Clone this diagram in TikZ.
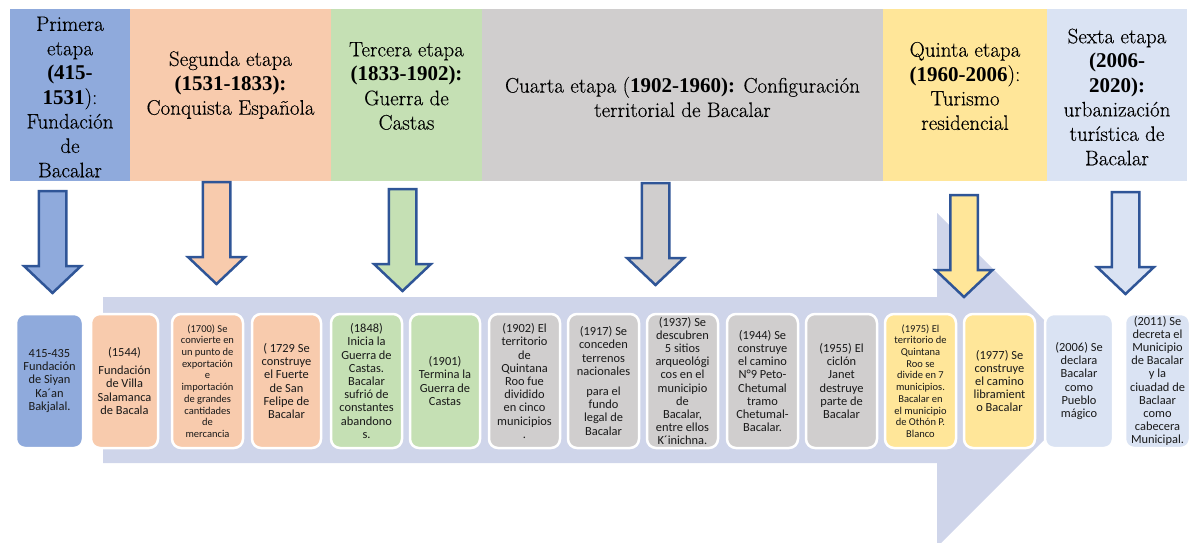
\documentclass[tikz,border=0pt]{standalone}
\usepackage{fontspec}
\setmainfont{Latin Modern Roman}
\newfontfamily\hdrreg{Latin Modern Roman}[FakeBold=0.3]
\newfontfamily\hdrboldfam{Liberation Serif}
\newcommand{\HdrB}[1]{{\hdrboldfam\bfseries #1}}
\newfontfamily\boxfont{Carlito}
\definecolor{cBlue}{HTML}{8FAADC}
\definecolor{cPeach}{HTML}{F8CBAD}
\definecolor{cGreen}{HTML}{C5E0B4}
\definecolor{cGray}{HTML}{D0CECE}
\definecolor{cYellow}{HTML}{FFE699}
\definecolor{cLight}{HTML}{DAE3F3}
\definecolor{cBand}{HTML}{CFD5EA}
\definecolor{cEdge}{HTML}{2F5597}
\tikzset{
  hdrbox/.style={draw=none, inner sep=0pt, outer sep=0pt, minimum height=172pt},
  hdrtext/.style={font=\hdrreg\fontsize{21}{24.4}\selectfont, align=center, inner sep=0pt, text=black},
  evt/.style={rounded corners=9pt, draw=white, line width=2.5pt, minimum height=134pt,
    align=center, font=\boxfont\fontsize{12.4}{13.2}\selectfont, inner sep=1pt, text=black!90},
  evtsmall/.style={font=\boxfont\fontsize{10.5}{11.7}\selectfont},
  pics/blockdown/.style={code={
    \draw[cEdge, line width=2.5pt, line join=miter, fill=#1]
      (-13.75,0) -- (13.75,0) -- (13.75,75) -- (28.5,75) -- (0,102)
      -- (-28.5,75) -- (-13.75,75) -- cycle;}}
}
\begin{document}
\begin{tikzpicture}[x=1pt, y=-1pt]
\useasboundingbox (0,0) rectangle (1189,543);

% big background arrow
\fill[cBand] (103,297) -- (937,297) -- (937,213) -- (1104,380) -- (941,543)
  -- (937,543) -- (937,463) -- (103,463) -- cycle;

% header bands
\node[hdrbox, fill=cBlue,   minimum width=120pt] (h1) at (70,95) {};
\node[hdrbox, fill=cPeach,  minimum width=201pt] (h2) at (230.5,95) {};
\node[hdrbox, fill=cGreen,  minimum width=151pt] (h3) at (406.5,95) {};
\node[hdrbox, fill=cGray,   minimum width=401pt] (h4) at (682.5,95) {};
\node[hdrbox, fill=cYellow, minimum width=164pt] (h5) at (965,95) {};
\node[hdrbox, fill=cLight,  minimum width=140pt] (h6) at (1117,95) {};

\node[hdrtext] (t1) at (70,97) {Primera\\etapa\\\HdrB{(415-}\\\HdrB{1531}):\\Fundación\\de\\Bacalar};
\node[hdrtext] (t2) at (230.5,85) {Segunda etapa\\\HdrB{(1531-1833):}\\Conquista Española};
\node[hdrtext] (t3) at (406.5,86) {Tercera etapa\\\HdrB{(1833-1902):}\\Guerra de\\Castas};
\node[hdrtext] (t4) at (682.5,97) {Cuarta etapa (\HdrB{1902-1960):} Configuración\\territorial de Bacalar};
\node[hdrtext] (t5) at (965,86) {Quinta etapa\\\HdrB{(1960-2006}):\\Turismo\\residencial};
\node[hdrtext] (t6) at (1117,97) {Sexta etapa\\\HdrB{(2006-}\\\HdrB{2020):}\\urbanización\\turística de\\Bacalar};

% down arrows
\pic (a1) at (52.5,191) {blockdown=cBlue};
\pic (a2) at (216.5,182) {blockdown=cPeach};
\pic (a3) at (402.5,189) {blockdown=cGreen};
\pic (a4) at (655.5,183) {blockdown=cGray};
\pic (a5) at (964,195) {blockdown=cYellow};
\pic (a6) at (1125.5,192) {blockdown=cLight};

% event boxes
\node[evt, fill=cBlue, minimum width=67pt] (b1) at (49.5,381) {415-435\\Fundación\\de Siyan\\Ka´an\\Bakjalal.};
\node[evt, fill=cPeach, minimum width=67pt] (b2) at (124.5,381) {(1544)\\[5pt]Fundación\\de Villa\\Salamanca\\de Bacala};
\node[evt, evtsmall, fill=cPeach, minimum width=71pt] (b3) at (207.5,381) {(1700) Se\\convierte en\\un punto de\\exportación\\e\\importación\\de grandes\\cantidades\\de\\mercancia};
\node[evt, fill=cPeach, minimum width=69pt] (b4) at (286.5,381) {( 1729 Se\\construye\\el Fuerte\\de San\\Felipe de\\Bacalar};
\node[evt, fill=cGreen, minimum width=71pt] (b5) at (366.5,381) {(1848)\\Inicia la\\Guerra de\\Castas.\\Bacalar\\sufrió de\\constantes\\abandono\\s.};
\node[evt, fill=cGreen, minimum width=70pt] (b6) at (445,381) {(1901)\\Termina la\\Guerra de\\Castas};
\node[evt, fill=cGray, minimum width=71pt] (b7) at (524.5,381) {(1902) El\\territorio\\de\\Quintana\\Roo fue\\dividido\\en cinco\\municipios\\.};
\node[evt, fill=cGray, minimum width=71pt] (b8) at (603.5,381) {(1917) Se\\conceden\\terrenos\\nacionales\\[7pt]para el\\fundo\\legal de\\Bacalar};
\node[evt, fill=cGray, minimum width=71pt] (b9) at (682.5,381) {(1937) Se\\descubren\\5 sitios\\arqueológi\\cos en el\\municipio\\de\\Bacalar,\\entre ellos\\K´inichna.};
\node[evt, fill=cGray, minimum width=71pt] (b10) at (762.5,381) {(1944) Se\\construye\\el camino\\N°9 Peto-\\Chetumal\\tramo\\Chetumal-\\Bacalar.};
\node[evt, fill=cGray, minimum width=71pt] (b11) at (841.5,381) {(1955) El\\ciclón\\Janet\\destruye\\parte de\\Bacalar};
\node[evt, evtsmall, fill=cYellow, minimum width=71pt] (b12) at (920.5,381) {(1975) El\\territorio de\\Quintana\\Roo se\\divide en 7\\municipios.\\Bacalar en\\el municipio\\de Othón P.\\Blanco};
\node[evt, fill=cYellow, minimum width=71pt] (b13) at (999.5,381) {(1977) Se\\construye\\el camino\\libramient\\o Bacalar};
\node[evt, fill=cLight, minimum width=68pt] (b14) at (1079,381) {(2006) Se\\declara\\Bacalar\\como\\Pueblo\\mágico};
\node[evt, fill=cLight, minimum width=65pt] (b15) at (1157.5,381) {(2011) Se\\decreta el\\Municipio\\de Bacalar\\y la\\ciuadad de\\Baclaar\\como\\cabecera\\Municipal.};
\end{tikzpicture}
\end{document}
